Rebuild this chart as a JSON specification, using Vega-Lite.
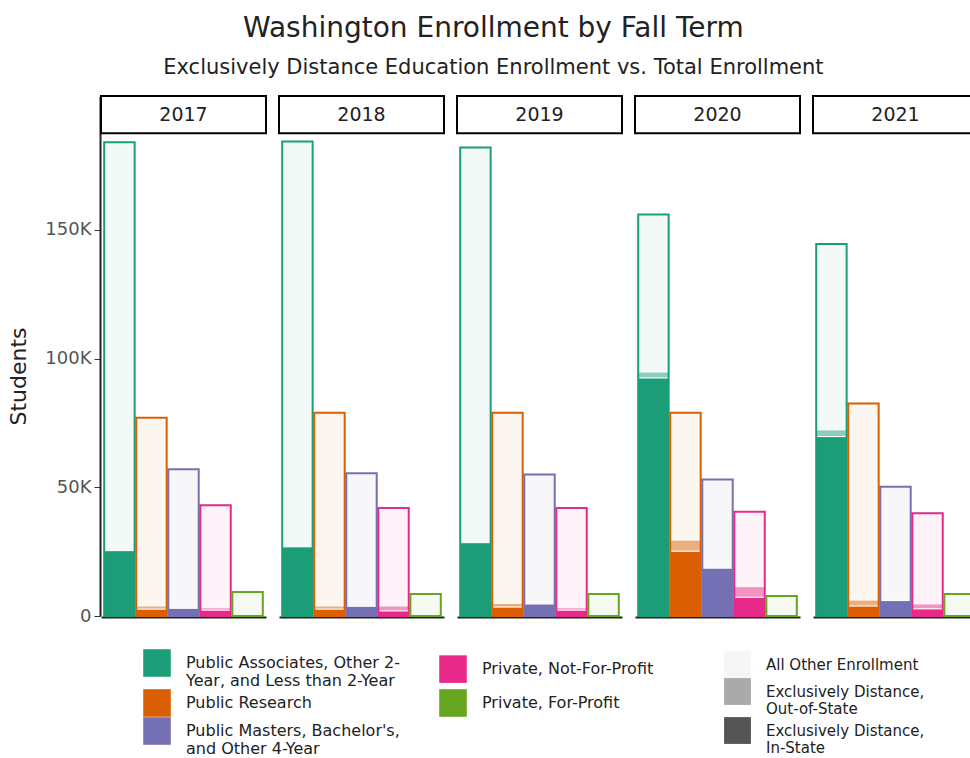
{
  "$schema": "https://vega.github.io/schema/vega-lite/v6.json",
  "padding": {"left": 7, "top": 15, "right": 5, "bottom": 5},
  "config": {"font": "DejaVu Sans", "view": {"stroke": null}, "background": "white"},
  "title": {"text": "Washington Enrollment by Fall Term", "subtitle": "Exclusively Distance Education Enrollment vs. Total Enrollment", "fontSize": 28, "fontWeight": "normal", "color": "#222", "subtitleFontSize": 21, "subtitleColor": "#222", "subtitlePadding": 14, "anchor": "middle", "offset": 17},
  "data": {"values": [
    {"year": "2017", "sector": "Public Associates, Other 2-Year, and Less than 2-Year", "type": "Exclusively Distance, In-State", "value": 25400},
    {"year": "2017", "sector": "Public Associates, Other 2-Year, and Less than 2-Year", "type": "Exclusively Distance, Out-of-State", "value": 300},
    {"year": "2017", "sector": "Public Associates, Other 2-Year, and Less than 2-Year", "type": "All Other Enrollment", "value": 158300},
    {"year": "2017", "sector": "Public Research", "type": "Exclusively Distance, In-State", "value": 2700},
    {"year": "2017", "sector": "Public Research", "type": "Exclusively Distance, Out-of-State", "value": 1200},
    {"year": "2017", "sector": "Public Research", "type": "All Other Enrollment", "value": 73100},
    {"year": "2017", "sector": "Public Masters, Bachelor's, and Other 4-Year", "type": "Exclusively Distance, In-State", "value": 3000},
    {"year": "2017", "sector": "Public Masters, Bachelor's, and Other 4-Year", "type": "Exclusively Distance, Out-of-State", "value": 200},
    {"year": "2017", "sector": "Public Masters, Bachelor's, and Other 4-Year", "type": "All Other Enrollment", "value": 53800},
    {"year": "2017", "sector": "Private, Not-For-Profit", "type": "Exclusively Distance, In-State", "value": 2300},
    {"year": "2017", "sector": "Private, Not-For-Profit", "type": "Exclusively Distance, Out-of-State", "value": 900},
    {"year": "2017", "sector": "Private, Not-For-Profit", "type": "All Other Enrollment", "value": 39800},
    {"year": "2017", "sector": "Private, For-Profit", "type": "Exclusively Distance, In-State", "value": 300},
    {"year": "2017", "sector": "Private, For-Profit", "type": "Exclusively Distance, Out-of-State", "value": 100},
    {"year": "2017", "sector": "Private, For-Profit", "type": "All Other Enrollment", "value": 8900},

    {"year": "2018", "sector": "Public Associates, Other 2-Year, and Less than 2-Year", "type": "Exclusively Distance, In-State", "value": 26900},
    {"year": "2018", "sector": "Public Associates, Other 2-Year, and Less than 2-Year", "type": "Exclusively Distance, Out-of-State", "value": 300},
    {"year": "2018", "sector": "Public Associates, Other 2-Year, and Less than 2-Year", "type": "All Other Enrollment", "value": 157100},
    {"year": "2018", "sector": "Public Research", "type": "Exclusively Distance, In-State", "value": 2700},
    {"year": "2018", "sector": "Public Research", "type": "Exclusively Distance, Out-of-State", "value": 1200},
    {"year": "2018", "sector": "Public Research", "type": "All Other Enrollment", "value": 75100},
    {"year": "2018", "sector": "Public Masters, Bachelor's, and Other 4-Year", "type": "Exclusively Distance, In-State", "value": 3800},
    {"year": "2018", "sector": "Public Masters, Bachelor's, and Other 4-Year", "type": "Exclusively Distance, Out-of-State", "value": 200},
    {"year": "2018", "sector": "Public Masters, Bachelor's, and Other 4-Year", "type": "All Other Enrollment", "value": 51500},
    {"year": "2018", "sector": "Private, Not-For-Profit", "type": "Exclusively Distance, In-State", "value": 2000},
    {"year": "2018", "sector": "Private, Not-For-Profit", "type": "Exclusively Distance, Out-of-State", "value": 1900},
    {"year": "2018", "sector": "Private, Not-For-Profit", "type": "All Other Enrollment", "value": 38100},
    {"year": "2018", "sector": "Private, For-Profit", "type": "Exclusively Distance, In-State", "value": 300},
    {"year": "2018", "sector": "Private, For-Profit", "type": "Exclusively Distance, Out-of-State", "value": 100},
    {"year": "2018", "sector": "Private, For-Profit", "type": "All Other Enrollment", "value": 8100},

    {"year": "2019", "sector": "Public Associates, Other 2-Year, and Less than 2-Year", "type": "Exclusively Distance, In-State", "value": 28500},
    {"year": "2019", "sector": "Public Associates, Other 2-Year, and Less than 2-Year", "type": "Exclusively Distance, Out-of-State", "value": 300},
    {"year": "2019", "sector": "Public Associates, Other 2-Year, and Less than 2-Year", "type": "All Other Enrollment", "value": 153200},
    {"year": "2019", "sector": "Public Research", "type": "Exclusively Distance, In-State", "value": 3500},
    {"year": "2019", "sector": "Public Research", "type": "Exclusively Distance, Out-of-State", "value": 1400},
    {"year": "2019", "sector": "Public Research", "type": "All Other Enrollment", "value": 74100},
    {"year": "2019", "sector": "Public Masters, Bachelor's, and Other 4-Year", "type": "Exclusively Distance, In-State", "value": 4700},
    {"year": "2019", "sector": "Public Masters, Bachelor's, and Other 4-Year", "type": "Exclusively Distance, Out-of-State", "value": 200},
    {"year": "2019", "sector": "Public Masters, Bachelor's, and Other 4-Year", "type": "All Other Enrollment", "value": 50100},
    {"year": "2019", "sector": "Private, Not-For-Profit", "type": "Exclusively Distance, In-State", "value": 2300},
    {"year": "2019", "sector": "Private, Not-For-Profit", "type": "Exclusively Distance, Out-of-State", "value": 900},
    {"year": "2019", "sector": "Private, Not-For-Profit", "type": "All Other Enrollment", "value": 38800},
    {"year": "2019", "sector": "Private, For-Profit", "type": "Exclusively Distance, In-State", "value": 300},
    {"year": "2019", "sector": "Private, For-Profit", "type": "Exclusively Distance, Out-of-State", "value": 100},
    {"year": "2019", "sector": "Private, For-Profit", "type": "All Other Enrollment", "value": 8100},

    {"year": "2020", "sector": "Public Associates, Other 2-Year, and Less than 2-Year", "type": "Exclusively Distance, In-State", "value": 92500},
    {"year": "2020", "sector": "Public Associates, Other 2-Year, and Less than 2-Year", "type": "Exclusively Distance, Out-of-State", "value": 2300},
    {"year": "2020", "sector": "Public Associates, Other 2-Year, and Less than 2-Year", "type": "All Other Enrollment", "value": 61200},
    {"year": "2020", "sector": "Public Research", "type": "Exclusively Distance, In-State", "value": 25200},
    {"year": "2020", "sector": "Public Research", "type": "Exclusively Distance, Out-of-State", "value": 4300},
    {"year": "2020", "sector": "Public Research", "type": "All Other Enrollment", "value": 49500},
    {"year": "2020", "sector": "Public Masters, Bachelor's, and Other 4-Year", "type": "Exclusively Distance, In-State", "value": 18600},
    {"year": "2020", "sector": "Public Masters, Bachelor's, and Other 4-Year", "type": "Exclusively Distance, Out-of-State", "value": 300},
    {"year": "2020", "sector": "Public Masters, Bachelor's, and Other 4-Year", "type": "All Other Enrollment", "value": 34100},
    {"year": "2020", "sector": "Private, Not-For-Profit", "type": "Exclusively Distance, In-State", "value": 7300},
    {"year": "2020", "sector": "Private, Not-For-Profit", "type": "Exclusively Distance, Out-of-State", "value": 4100},
    {"year": "2020", "sector": "Private, Not-For-Profit", "type": "All Other Enrollment", "value": 29100},
    {"year": "2020", "sector": "Private, For-Profit", "type": "Exclusively Distance, In-State", "value": 400},
    {"year": "2020", "sector": "Private, For-Profit", "type": "Exclusively Distance, Out-of-State", "value": 100},
    {"year": "2020", "sector": "Private, For-Profit", "type": "All Other Enrollment", "value": 7300},

    {"year": "2021", "sector": "Public Associates, Other 2-Year, and Less than 2-Year", "type": "Exclusively Distance, In-State", "value": 69700},
    {"year": "2021", "sector": "Public Associates, Other 2-Year, and Less than 2-Year", "type": "Exclusively Distance, Out-of-State", "value": 2600},
    {"year": "2021", "sector": "Public Associates, Other 2-Year, and Less than 2-Year", "type": "All Other Enrollment", "value": 72200},
    {"year": "2021", "sector": "Public Research", "type": "Exclusively Distance, In-State", "value": 3900},
    {"year": "2021", "sector": "Public Research", "type": "Exclusively Distance, Out-of-State", "value": 2300},
    {"year": "2021", "sector": "Public Research", "type": "All Other Enrollment", "value": 76300},
    {"year": "2021", "sector": "Public Masters, Bachelor's, and Other 4-Year", "type": "Exclusively Distance, In-State", "value": 6000},
    {"year": "2021", "sector": "Public Masters, Bachelor's, and Other 4-Year", "type": "Exclusively Distance, Out-of-State", "value": 200},
    {"year": "2021", "sector": "Public Masters, Bachelor's, and Other 4-Year", "type": "All Other Enrollment", "value": 44000},
    {"year": "2021", "sector": "Private, Not-For-Profit", "type": "Exclusively Distance, In-State", "value": 2800},
    {"year": "2021", "sector": "Private, Not-For-Profit", "type": "Exclusively Distance, Out-of-State", "value": 1900},
    {"year": "2021", "sector": "Private, Not-For-Profit", "type": "All Other Enrollment", "value": 35200},
    {"year": "2021", "sector": "Private, For-Profit", "type": "Exclusively Distance, In-State", "value": 300},
    {"year": "2021", "sector": "Private, For-Profit", "type": "Exclusively Distance, Out-of-State", "value": 100},
    {"year": "2021", "sector": "Private, For-Profit", "type": "All Other Enrollment", "value": 8100}
  ]},
  "transform": [
    {"calculate": "indexof(['Exclusively Distance, In-State', 'Exclusively Distance, Out-of-State', 'All Other Enrollment'], datum.type)", "as": "ord"}
  ],
  "facet": {"column": {"field": "year", "type": "ordinal", "header": null}},
  "spacing": 11,
  "spec": {
    "width": 165,
    "height": 520,
    "layer": [
      {
        "mark": {"type": "bar", "stroke": "white", "strokeWidth": 1},
        "encoding": {
          "x": {"field": "sector", "type": "nominal",
                "sort": ["Public Associates, Other 2-Year, and Less than 2-Year", "Public Research", "Public Masters, Bachelor's, and Other 4-Year", "Private, Not-For-Profit", "Private, For-Profit"],
                "scale": {"paddingInner": 0.05, "paddingOuter": 0.1},
                "axis": {"labels": false, "ticks": false, "title": null, "domainColor": "#222", "domainWidth": 2}},
          "y": {"field": "value", "type": "quantitative", "stack": "zero",
                "scale": {"domain": [0, 202000], "nice": false},
                "axis": {"values": [0, 50000, 100000, 150000], "labelExpr": "datum.value == 0 ? '0' : (datum.value / 1000) + 'K'", "title": "Students", "titleFontSize": 22, "titleFontWeight": "normal", "titleColor": "#222", "titlePadding": 14, "titleY": 280, "labelFontSize": 18, "labelColor": "#555", "labelPadding": 3, "tickColor": "#333", "tickSize": 6, "domainColor": "#222", "domainWidth": 2, "grid": false}},
          "color": {"field": "sector", "type": "nominal",
                    "scale": {"domain": ["Public Associates, Other 2-Year, and Less than 2-Year", "Public Research", "Public Masters, Bachelor's, and Other 4-Year", "Private, Not-For-Profit", "Private, For-Profit"],
                              "range": ["#1B9E77", "#D95F02", "#7570B3", "#E7298A", "#66A61E"]},
                    "legend": {"orient": "none", "legendX": 42, "legendY": 553, "title": null, "columns": 2, "columnPadding": 39, "rowPadding": 0, "symbolType": "square", "symbolSize": 760, "symbolStrokeWidth": 0, "symbolOpacity": 1, "labelFontSize": 16, "labelColor": "#222", "labelLimit": 400, "labelOffset": 15,
                               "labelExpr": "datum.label == 'Public Associates, Other 2-Year, and Less than 2-Year' ? ['Public Associates, Other 2-', 'Year, and Less than 2-Year'] : indexof(datum.label, 'Masters') >= 0 ? [\"Public Masters, Bachelor's,\", 'and Other 4-Year'] : datum.label"}},
          "opacity": {"field": "type", "type": "nominal",
                      "scale": {"type": "ordinal", "domain": ["All Other Enrollment", "Exclusively Distance, Out-of-State", "Exclusively Distance, In-State"], "range": [0.05, 0.5, 1]},
                      "legend": {"orient": "none", "legendX": 623, "legendY": 555, "title": null, "rowPadding": 0, "symbolType": "square", "symbolSize": 720, "symbolFillColor": "#555555", "symbolStrokeWidth": 0, "labelFontSize": 15, "labelColor": "#222", "labelLimit": 300, "labelOffset": 15,
                                 "labelExpr": "datum.label == 'All Other Enrollment' ? datum.label : split(replace(datum.label, ', ', ',|'), '|')"}},
          "order": {"field": "ord", "type": "quantitative"}
        }
      },
      {
        "mark": {"type": "bar", "filled": false, "strokeWidth": 2},
        "encoding": {
          "x": {"field": "sector", "type": "nominal",
                "sort": ["Public Associates, Other 2-Year, and Less than 2-Year", "Public Research", "Public Masters, Bachelor's, and Other 4-Year", "Private, Not-For-Profit", "Private, For-Profit"]},
          "y": {"aggregate": "sum", "field": "value", "type": "quantitative"},
          "color": {"field": "sector", "type": "nominal"}
        }
      },
      {
        "transform": [{"filter": "datum.sector == 'Private, For-Profit' && datum.type == 'All Other Enrollment'"}],
        "mark": {"type": "rect", "fill": "white", "stroke": "black", "strokeWidth": 2},
        "encoding": {"y": {"datum": 187500}, "y2": {"datum": 202000}}
      },
      {
        "transform": [{"filter": "datum.sector == 'Private, For-Profit' && datum.type == 'All Other Enrollment'"}],
        "mark": {"type": "text", "fontSize": 19, "color": "#222", "baseline": "middle"},
        "encoding": {"y": {"datum": 194750}, "text": {"field": "year"}}
      }
    ]
  }
}
